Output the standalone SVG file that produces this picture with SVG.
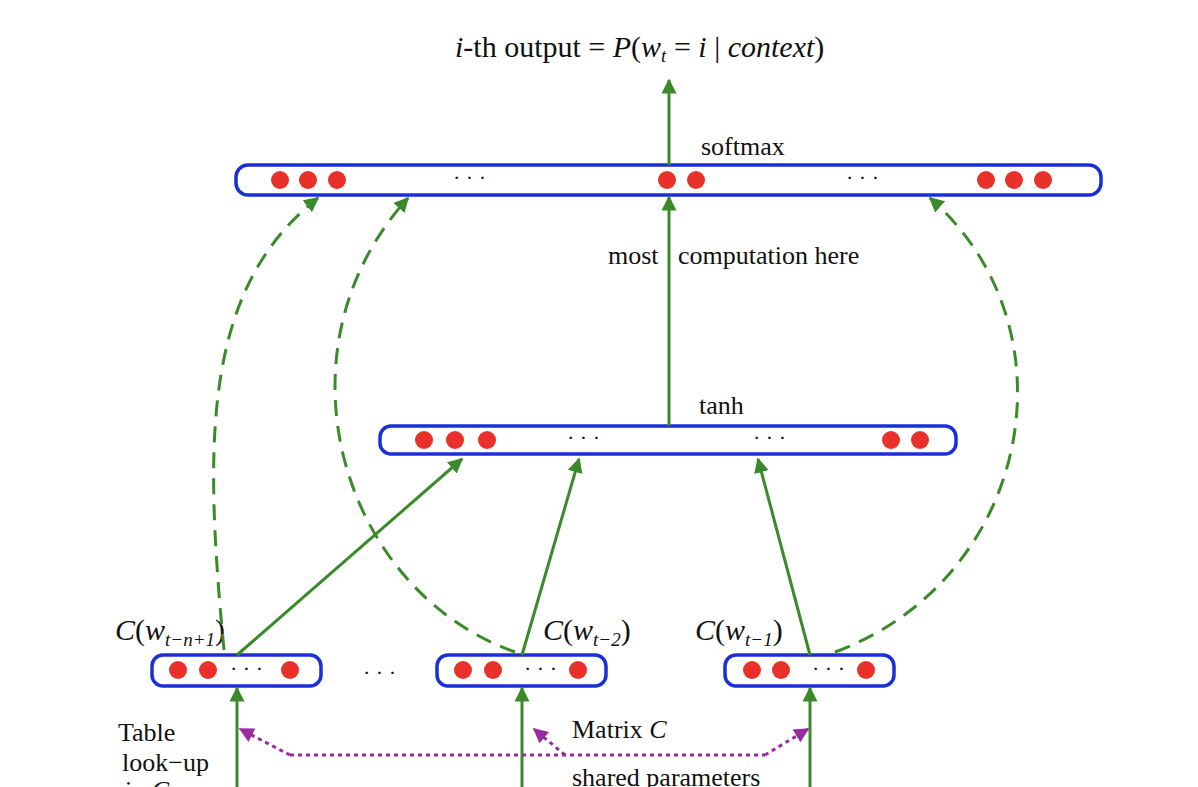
<svg xmlns="http://www.w3.org/2000/svg" width="1198" height="787" viewBox="0 0 1198 787">
<style>
text{font-family:"Liberation Serif",serif;fill:#111}
.t{font-size:26px}.s{font-size:22px}.big{font-size:30px}
.sub{font-size:19px;font-style:italic}
.i{font-style:italic}
.bar{fill:#fff;stroke:#1a2fd6;stroke-width:3.5}
.d{fill:#e8312a}
.g{stroke:#3a8a2a;stroke-width:3;fill:none}
.gd{stroke:#3a8a2a;stroke-width:3;fill:none;stroke-dasharray:16 10}
.p{stroke:#9a2aa0;stroke-width:3;fill:none;stroke-dasharray:4 4}
</style>
<defs>
<marker id="ag" viewBox="0 0 10 10" refX="9" refY="5" markerWidth="5" markerHeight="5" orient="auto"><path d="M0,0L10,5L0,10z" fill="#3a8a2a"/></marker>
<marker id="ap" viewBox="0 0 10 10" refX="9" refY="5" markerWidth="5" markerHeight="5" orient="auto"><path d="M0,0L10,5L0,10z" fill="#9a2aa0"/></marker>
</defs>
<text x="455" y="57" class="big"><tspan class="i">i</tspan>-th output = <tspan class="i">P</tspan>(<tspan class="i">w</tspan><tspan class="sub" dy="5">t</tspan><tspan dy="-5">  =  </tspan><tspan class="i">i</tspan> | <tspan class="i">context</tspan>)</text>
<g id="output">
<rect class="bar" x="236" y="165" width="865" height="30" rx="12"/>
<circle class="d" cx="280" cy="180" r="9"/><circle class="d" cx="308" cy="180" r="9"/><circle class="d" cx="337" cy="180" r="9"/>
<text x="453" y="185" class="s">· · ·</text>
<circle class="d" cx="667" cy="180" r="9"/><circle class="d" cx="696" cy="180" r="9"/>
<text x="846" y="185" class="s">· · ·</text>
<circle class="d" cx="986" cy="180" r="9"/><circle class="d" cx="1014" cy="180" r="9"/><circle class="d" cx="1043" cy="180" r="9"/>
<text x="701" y="155" class="t">softmax</text>
</g>
<g id="hidden">
<rect class="bar" x="380" y="426" width="576" height="28" rx="11"/>
<circle class="d" cx="424" cy="440" r="9"/><circle class="d" cx="455" cy="440" r="9"/><circle class="d" cx="487" cy="440" r="9"/>
<text x="567" y="445" class="s">· · ·</text><text x="753" y="445" class="s">· · ·</text>
<circle class="d" cx="891" cy="440" r="9"/><circle class="d" cx="920" cy="440" r="9"/>
<text x="699" y="414" class="t">tanh</text>
</g>
<text x="608" y="264" class="t">most</text><text x="678" y="264" class="t">computation here</text>
<g id="emb1">
<rect class="bar" x="152" y="655" width="169" height="31" rx="11"/>
<circle class="d" cx="178" cy="670" r="9"/><circle class="d" cx="208" cy="670" r="9"/><text x="230" y="676" class="s">· · ·</text><circle class="d" cx="290" cy="670" r="9"/>
<text x="115" y="640" class="big"><tspan class="i">C</tspan>(<tspan class="i">w</tspan><tspan class="sub" dy="6">t−n+1</tspan><tspan dy="-6">)</tspan></text>
</g>
<text x="363" y="680" class="s">· · ·</text>
<g id="emb2">
<rect class="bar" x="437" y="655" width="169" height="31" rx="11"/>
<circle class="d" cx="463" cy="670" r="9"/><circle class="d" cx="493" cy="670" r="9"/><text x="524" y="676" class="s">· · ·</text><circle class="d" cx="578" cy="670" r="9"/>
<text x="543" y="640" class="big"><tspan class="i">C</tspan>(<tspan class="i">w</tspan><tspan class="sub" dy="6">t−2</tspan><tspan dy="-6">)</tspan></text>
</g>
<g id="emb3">
<rect class="bar" x="725" y="655" width="169" height="31" rx="11"/>
<circle class="d" cx="752" cy="670" r="9"/><circle class="d" cx="781" cy="670" r="9"/><text x="812" y="676" class="s">· · ·</text><circle class="d" cx="866" cy="670" r="9"/>
<text x="695" y="640" class="big"><tspan class="i">C</tspan>(<tspan class="i">w</tspan><tspan class="sub" dy="6">t−1</tspan><tspan dy="-6">)</tspan></text>
</g>
<text x="118" y="741" class="t">Table</text>
<text x="122" y="771" class="t">look−up</text>
<text x="125" y="799" class="t">in <tspan class="i">C</tspan></text>
<text x="572" y="738" class="t">Matrix <tspan class="i">C</tspan></text>
<text x="572" y="786" class="t">shared parameters</text>
<g id="connectors">
<path class="g" d="M669,165V80" marker-end="url(#ag)"/>
<path class="g" d="M669,426V197" marker-end="url(#ag)"/>
<path class="g" d="M237,655L462,459" marker-end="url(#ag)"/>
<path class="g" d="M522,655L579,459" marker-end="url(#ag)"/>
<path class="g" d="M810,655L758,459" marker-end="url(#ag)"/>
<path class="g" d="M237,787V688" marker-end="url(#ag)"/>
<path class="g" d="M522,787V688" marker-end="url(#ag)"/>
<path class="g" d="M810,787V688" marker-end="url(#ag)"/>
<path class="gd" d="M224,650C205,450 200,290 318,198" marker-end="url(#ag)"/>
<path class="gd" d="M515,652C340,590 270,350 408,198" marker-end="url(#ag)"/>
<path class="gd" d="M835,652C1030,580 1080,330 930,198" marker-end="url(#ag)"/>
<path class="p" d="M290,755H765" />
<path class="p" d="M290,755L240,729" marker-end="url(#ap)"/>
<path class="p" d="M765,755L808,729" marker-end="url(#ap)"/>
<path class="p" d="M565,755L534,729" marker-end="url(#ap)"/>
</g>
</svg>
